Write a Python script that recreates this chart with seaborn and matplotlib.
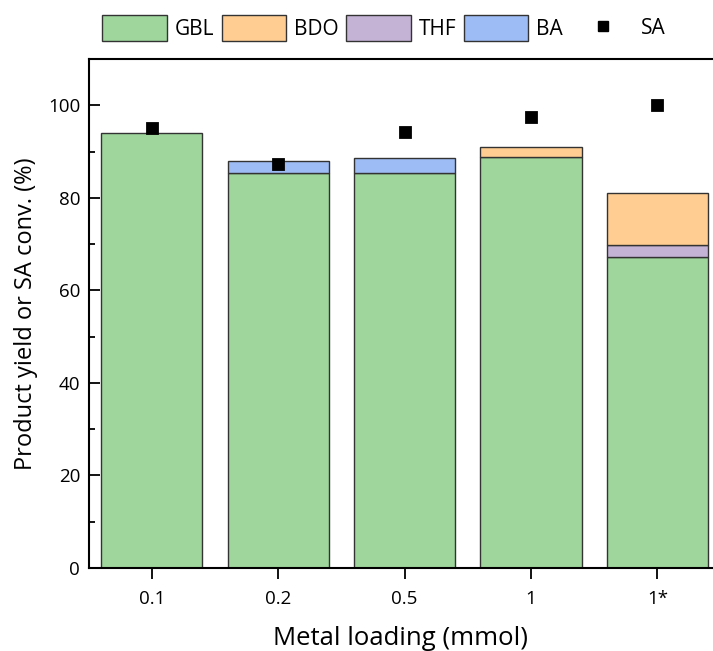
import matplotlib
matplotlib.use("Agg")
import matplotlib.pyplot as plt
import seaborn as sns
import numpy as np
from matplotlib.patches import Patch
from matplotlib.lines import Line2D
from matplotlib.ticker import MultipleLocator

# ---- data ----
categories = ["0.1", "0.2", "0.5", "1", "1*"]
gbl = [93.9, 85.4, 85.4, 88.9, 67.2]
thf = [0.0, 0.0, 0.0, 0.0, 2.6]
bdo = [0.0, 0.0, 0.0, 2.0, 11.2]
ba = [0.0, 2.6, 3.1, 0.0, 0.0]
sa_conv = [95.0, 87.3, 94.2, 97.5, 100.0]

series_names = ["GBL", "BDO", "THF", "BA"]
colors = {"GBL": "#9ED69B", "BDO": "#FFCC91", "THF": "#C5B3D6", "BA": "#9DBBF5"}

sns.set_style("white")
plt.rcParams["font.family"] = ["Open Sans", "DejaVu Sans"]
for k in ["text.color", "axes.labelcolor", "xtick.color", "ytick.color"]:
    plt.rcParams[k] = "black"

fig = plt.figure(figsize=(7.13, 6.51), dpi=100)
ax = fig.add_axes([88.5 / 713, 83 / 651, 1 - 88.5 / 713, (568 - 59) / 651])

edge = "#333333"
stack_order = [("GBL", gbl), ("THF", thf), ("BDO", bdo), ("BA", ba)]
bottom = np.zeros(len(categories))
for name, vals in stack_order:
    vals = np.asarray(vals, dtype=float)
    mask = vals > 0
    xs = [c for c, m in zip(categories, mask) if m]
    ys = vals[mask]
    bs = bottom[mask]
    sns.barplot(x=xs, y=ys, order=categories, bottom=bs, color=colors[name],
                width=0.8, edgecolor=edge, linewidth=1.0, saturation=1,
                errorbar=None, ax=ax)
    bottom = bottom + vals

sns.pointplot(x=categories, y=sa_conv, order=categories, color="black",
              marker="s", markersize=7, linestyle="none", errorbar=None, ax=ax)

ax.set_xlim(-0.5, 4.44)
ax.set_ylim(0, 110)
ax.yaxis.set_major_locator(MultipleLocator(20))
ax.yaxis.set_minor_locator(MultipleLocator(10))
ax.tick_params(axis="y", which="major", direction="in", length=8, width=1.3,
               labelsize=13.5, left=True, pad=6)
ax.tick_params(axis="y", which="minor", direction="in", length=4, width=1.3, left=True)
ax.tick_params(axis="x", which="major", direction="out", length=8, width=1.3,
               labelsize=13.5, bottom=True, pad=8)

for s in ["left", "bottom", "top"]:
    ax.spines[s].set_visible(True)
    ax.spines[s].set_color("black")
    ax.spines[s].set_linewidth(1.5)
ax.spines["right"].set_visible(False)

ax.set_xlabel("Metal loading (mmol)", fontsize=18.5, labelpad=13)
ax.set_ylabel("Product yield or SA conv. (%)", fontsize=17, labelpad=7)

fs_leg = 15
handles = [Patch(facecolor=colors[n], edgecolor=edge, linewidth=1.0) for n in series_names]
leg1 = fig.legend(handles, series_names, loc="center left",
                  bbox_to_anchor=(94 / 713, 1 - 28 / 651), ncol=4, frameon=False,
                  fontsize=fs_leg, handlelength=3.08, handleheight=1.54,
                  handletextpad=0.38, columnspacing=0.38, borderaxespad=0)
sa_handle = Line2D([], [], marker="s", color="black", linestyle="none", markersize=7)
leg2 = fig.legend([sa_handle], ["SA"], loc="center left",
                  bbox_to_anchor=(584 / 713, 1 - 28 / 651), frameon=False,
                  fontsize=fs_leg, handlelength=1.0, handletextpad=1.33, borderaxespad=0)

fig.savefig("out.png", dpi=100)
